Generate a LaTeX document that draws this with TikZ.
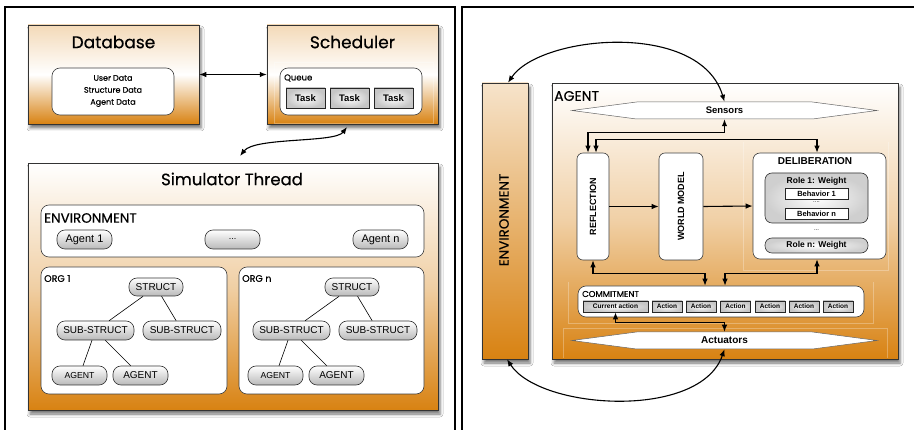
\documentclass[tikz,border=0pt]{standalone}
\usepackage{fontspec}
\setmainfont{Liberation Sans}
\newfontfamily\geofont{Poppins}[FakeBold=0.45]
\usetikzlibrary{arrows.meta,shadows.blur,shapes.symbols}

\definecolor{orng}{RGB}{216,130,18}

\tikzset{
  panel/.style={draw=black, line width=2.6pt},
  shadowed/.style={blur shadow={shadow xshift=2pt, shadow yshift=-4pt,
      shadow blur radius=3pt, shadow opacity=55}},
  bigbox/.style={shadowed, draw=black!80, line width=0.5pt, inner sep=0pt},
  headbox/.style={bigbox, top color=orng!30, bottom color=orng, middle color=white},
  mainbox/.style={bigbox, top color=white, bottom color=orng, middle color=orng!38},
  whitebox/.style={draw=black!75, line width=0.6pt, fill=white, rounded corners=8pt, inner sep=0pt},
  pill/.style={draw=black!80, line width=0.6pt, rounded corners=8pt,
      top color=white, bottom color=gray!55, inner sep=0pt},
  taskbox/.style={draw=black!85, line width=0.7pt, inner color=white, outer color=gray!45, inner sep=0pt},
  rolebox/.style={draw=black!80, line width=0.6pt, rounded corners=7pt,
      inner color=white, outer color=gray!38, inner sep=0pt},
  behbox/.style={draw=black!85, line width=0.6pt, fill=white, inner sep=0pt},
  probe/.style={signal, signal to=west and east, signal pointer angle=15,
      draw=black!60, line width=0.5pt, fill=white, inner sep=0pt,
      minimum width=305pt, minimum height=17pt},
  geotitle/.style={font=\geofont\fontsize{17}{20}\selectfont},
  geolabel/.style={font=\geofont\fontsize{13.5}{16}\selectfont, anchor=west, inner sep=0pt},
  geosmall/.style={font=\geofont\fontsize{8.5}{10}\selectfont, anchor=west, inner sep=0pt},
  tip/.tip={Latex[length=7pt,width=5.5pt]},
  dbl/.style={tip-tip, line width=1.1pt},
  one/.style={-tip, line width=1.1pt},
  link/.style={line width=0.6pt},
  ghost/.style={draw=white, opacity=0.28, line width=0.6pt},
}

\begin{document}
\begin{tikzpicture}[x=1pt,y=-1pt]
\useasboundingbox[fill=white] (0,0) rectangle (914,430);

% panel frames
\draw[panel] (5,440) -- (5,7) -- (455,7) -- (455,440);
\draw[panel] (462,440) -- (462,7) -- (920,7);

% ---------------- left panel ----------------
% Database
\node[headbox, minimum width=171pt, minimum height=99pt] (db) at (113.5,74.5) {};
\node[geotitle] (dbtitle) at (113.5,42) {Database};
\node[whitebox, minimum width=122pt, minimum height=47pt] (dbdata) at (113,91.5) {};
\node[font=\geofont\fontsize{8}{12}\selectfont, align=center] (dbtext) at (113,91)
  {User Data\\Structure Data\\Agent Data};

% Scheduler
\node[headbox, minimum width=171pt, minimum height=99pt] (sched) at (352.5,74.5) {};
\draw[ghost] (274,62) rectangle (433,123);
\node[geotitle] (schedtitle) at (352.5,42) {Scheduler};
\node[whitebox, minimum width=142pt, minimum height=47pt] (queue) at (351,91.5) {};
\node[geosmall] (queuelabel) at (284,78) {Queue};
\foreach \x/\k in {305.5/1,349.5/2,393.5/3}
  \node[taskbox, minimum width=39pt, minimum height=20pt,
        font=\bfseries\fontsize{9.5}{11}\selectfont] (task\k) at (\x,98) {Task};

\draw[dbl] (db.east) -- (sched.east -| sched.west);

% Simulator thread
\node[mainbox, minimum width=410pt, minimum height=247pt] (sim) at (233,286.5) {};
\node[geotitle, font=\geofont\fontsize{16.5}{20}\selectfont] (simtitle) at (232,179) {Simulator Thread};

\coordinate (schedlink) at (347,127);
\coordinate (simlink) at (240,156);
\draw[dbl] (schedlink) .. controls (335,143) and (255,137) .. (simlink);

% environment of the simulator
\node[whitebox, minimum width=383pt, minimum height=52pt] (simenv) at (232.5,231) {};
\node[geolabel] (simenvlabel) at (44,218) {ENVIRONMENT};
\node[pill, minimum width=55pt, minimum height=19pt, font=\fontsize{11}{13}\selectfont] (ag1) at (84.5,239.5) {Agent 1};
\node[pill, minimum width=55pt, minimum height=19pt, font=\fontsize{9}{11}\selectfont] (agdots) at (232.5,239.5) {...};
\node[pill, minimum width=55pt, minimum height=19pt, font=\fontsize{11}{13}\selectfont] (agn) at (380.5,239.5) {Agent n};

% organisations
\node[whitebox, minimum width=186pt, minimum height=127pt] (org1) at (134,330.5) {};
\node[whitebox, minimum width=185pt, minimum height=127pt] (orgn) at (331.5,330.5) {};
\node[geolabel, font=\geofont\fontsize{9.5}{11}\selectfont] (org1label) at (44,278.5) {ORG 1};
\node[geolabel, font=\geofont\fontsize{9.5}{11}\selectfont] (orgnlabel) at (242,278.5) {ORG n};

\foreach \dx/\k in {0/a,196/b}{
  \node[pill, minimum width=54pt, minimum height=18pt, font=\fontsize{10}{12}\selectfont]
    (struct\k) at (156+\dx,287) {STRUCT};
  \node[pill, minimum width=77pt, minimum height=19pt, font=\fontsize{10}{12}\selectfont]
    (subl\k) at (95.5+\dx,330.5) {SUB-STRUCT};
  \node[pill, minimum width=78pt, minimum height=19pt, font=\fontsize{10}{12}\selectfont]
    (subr\k) at (182+\dx,330.5) {SUB-STRUCT};
  \node[pill, minimum width=55pt, minimum height=19pt, font=\fontsize{8.7}{10}\selectfont]
    (agl\k) at (79.5+\dx,375.5) {AGENT};
  \node[pill, minimum width=55pt, minimum height=19pt, font=\fontsize{10}{12}\selectfont]
    (agr\k) at (140.5+\dx,375.5) {AGENT};
  \draw[link] (struct\k) -- (subl\k);
  \draw[link] (struct\k) -- (subr\k);
  \draw[link] (subl\k) -- (agl\k);
  \draw[link] (subl\k) -- (agr\k);
}

% ---------------- right panel ----------------
\node[bigbox, top color=orng!22, bottom color=orng, minimum width=46pt, minimum height=276pt] (env) at (505,221) {};
\node[rotate=90, font=\geofont\fontsize{13.5}{16}\selectfont] (envtext) at (504,220) {ENVIRONMENT};

\node[mainbox, minimum width=346pt, minimum height=276pt] (agent) at (725,221) {};
\node[geolabel, font=\geofont\fontsize{14}{16}\selectfont] (agentlabel) at (554,96) {AGENT};

\draw[ghost] (743,142) -- (743,270) -- (888,270) -- (888,142);
\draw[ghost] (568,323) -- (568,282) (568,323) -- (873,323) -- (873,282);
\draw[ghost] (563,358) -- (563,328) -- (887,328) -- (887,358);

\node[probe, font=\bfseries\fontsize{9.5}{11}\selectfont] (sens) at (724.5,110.5) {Sensors};
\node[probe, font=\bfseries\fontsize{10}{12}\selectfont] (act) at (724.5,340.5) {Actuators};

\node[whitebox, rounded corners=6pt, minimum width=32pt, minimum height=107pt] (refl) at (593,206.5) {};
\node[rotate=90, font=\bfseries\fontsize{9}{11}\selectfont] (refltext) at (refl.center) {REFLECTION};
\node[whitebox, rounded corners=6pt, minimum width=44pt, minimum height=107pt] (wm) at (681,206.5) {};
\node[rotate=90, font=\bfseries\fontsize{9}{11}\selectfont] (wmtext) at (wm.center) {WORLD MODEL};

\node[whitebox, rounded corners=7pt, minimum width=133pt, minimum height=106pt] (delib) at (819.5,206) {};
\node[font=\bfseries\fontsize{10}{12}\selectfont, inner sep=0pt] (delibtitle) at (815,161.5) {DELIBERATION};
\node[rolebox, minimum width=103pt, minimum height=50pt] (role1) at (816.5,198) {};
\node[font=\bfseries\fontsize{8.5}{10}\selectfont, inner sep=0pt] (role1text) at (816.5,181) {Role 1: Weight};
\node[behbox, minimum width=63pt, minimum height=10.5pt, font=\bfseries\fontsize{7.5}{9}\selectfont] (beh1) at (816.5,194) {Behavior 1};
\node[font=\fontsize{6}{7}\selectfont, inner sep=0pt] (behdots) at (816.5,202.5) {....};
\node[behbox, minimum width=63pt, minimum height=11pt, font=\bfseries\fontsize{7.5}{9}\selectfont] (behn) at (816.5,213.5) {Behavior n};
\node[font=\fontsize{6}{7}\selectfont, inner sep=0pt] (roledots) at (816.5,230) {...};
\node[rolebox, minimum width=103pt, minimum height=15pt, font=\bfseries\fontsize{8.5}{10}\selectfont] (rolen) at (816.5,245.5) {Role n: Weight};

\node[whitebox, minimum width=286pt, minimum height=31pt] (commit) at (721,301.5) {};
\node[geosmall] (commitlabel) at (582,294) {COMMITMENT};
\node[taskbox, minimum width=65pt, minimum height=11pt, font=\bfseries\fontsize{6.6}{8}\selectfont] (cur) at (615.5,306.5) {Current action};
\foreach \x/\k in {667/1,701/2,735.5/3,770/4,804/5,838/6}
  \node[taskbox, minimum width=30pt, minimum height=11pt, font=\bfseries\fontsize{6.5}{8}\selectfont]
    (action\k) at (\x,306.5) {Action};

% flows inside the agent
\draw[one] (refl.east) -- (wm.west);
\draw[one] (wm.east) -- (delib.west);
\draw[dbl] (sens.south) -- ++(0,13) -| ([xshift=-5pt]refl.north);
\draw[dbl] ([xshift=3pt]refl.north) -- ++(0,-13) -| ([xshift=-2.5pt]delib.north);
\draw[dbl] (refl.south) -- ++(0,13) -| ([xshift=-16pt]commit.north);
\draw[dbl] ([xshift=-2.5pt]delib.south) -- ++(0,14) -| ([xshift=4pt]commit.north);
\draw[dbl] (cur.south) -- ++(0,10) -| (act.north);

% exchanges with the environment
\draw[dbl] ([xshift=3pt]env.north) .. controls (540,35) and (700,20) .. (sens.north);
\draw[dbl] ([xshift=2pt]env.south) .. controls (540,410) and (700,420) .. (act.south);
\end{tikzpicture}
\end{document}
